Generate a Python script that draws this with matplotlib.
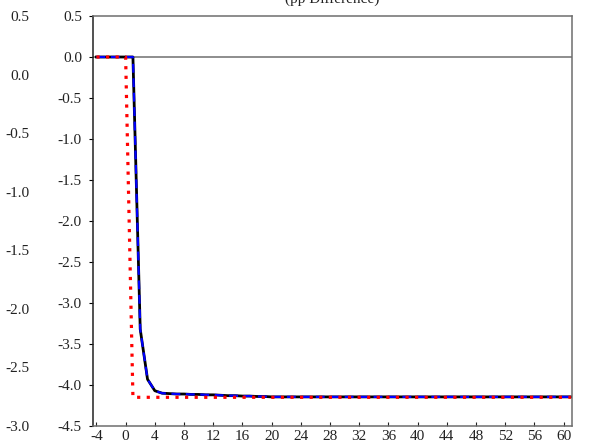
import numpy as np
import matplotlib
matplotlib.use("Agg")
import matplotlib.pyplot as plt

plt.rcParams['font.family'] = ['Liberation Serif', 'DejaVu Serif']

# Data
periods = np.arange(-4, 62)
black_vals = [0, 0, 0, 0, 0, 0,
              -3.32, -3.93, -4.07, -4.10, -4.105, -4.11, -4.11, -4.115, -4.115,
              -4.12, -4.12, -4.125, -4.13, -4.13, -4.135, -4.135, -4.14, -4.14] + [-4.145] * 42
blue_vals = list(black_vals)
red_vals = [0, 0, 0, 0, 0] + [-4.15] * 61

x_ticks = list(range(-4, 61, 4))
y_ticks = [0.5, 0.0, -0.5, -1.0, -1.5, -2.0, -2.5, -3.0, -3.5, -4.0, -4.5]
outer_ticks = [0.5, 0.0, -0.5, -1.0, -1.5, -2.0, -2.5, -3.0]
title = "(pp Difference)"

fig = plt.figure(figsize=(6.05, 4.44), dpi=100)
ax = fig.add_axes([93/605, 1-426/444, (572-93)/605, (426-16)/444])

ax.axhline(0, color='#7a7a7a', lw=1.2, zorder=1)
ax.plot(periods, black_vals, color='black', lw=2.0, zorder=2)
ax.plot(periods, blue_vals, color='#0000ff', lw=1.6, dashes=(4, 2.5), zorder=3)
ax.plot(periods, red_vals, color='#ff0000', lw=2.3, dashes=(1, 2), dash_capstyle='butt', zorder=4)

ax.set_xlim(-4.47, 61.15)
ax.set_ylim(-4.5, 0.5)
ax.set_xticks(x_ticks)
ax.set_yticks(y_ticks)
ax.set_xticklabels([str(v) for v in x_ticks])
ax.set_yticklabels([f"{v:.1f}" for v in y_ticks])

fs = 11
ax.tick_params(axis='x', direction='in', length=3, pad=3, labelsize=fs, colors='#222222')
ax.tick_params(axis='y', direction='out', length=3, pad=5, labelsize=fs, left=True, right=True,
               labelleft=True, labelright=True)
ax.tick_params(axis='y', which='major', labelcolor='#222222')

for s in ['top', 'right', 'bottom']:
    ax.spines[s].set_color('#6e6e6e')
    ax.spines[s].set_linewidth(1.1)
ax.spines['left'].set_color('#222222')
ax.spines['left'].set_linewidth(1.1)

ax.set_title(title, fontsize=fs, pad=9.5, color='#222222')

# Outer left scale
ax2 = ax.twinx()
ax2.set_ylim(-3.0, 0.5)
ax2.set_yticks(outer_ticks)
ax2.set_yticklabels([f"{v:.1f}" for v in outer_ticks])
ax2.yaxis.set_ticks_position('left')
ax2.yaxis.set_label_position('left')
ax2.spines['left'].set_position(('outward', 46))
for s in ['top', 'right', 'bottom', 'left']:
    ax2.spines[s].set_visible(False)
ax2.tick_params(axis='y', length=0, pad=0, labelsize=fs, labelcolor='#222222')

fig.savefig('out.png', dpi=100)
